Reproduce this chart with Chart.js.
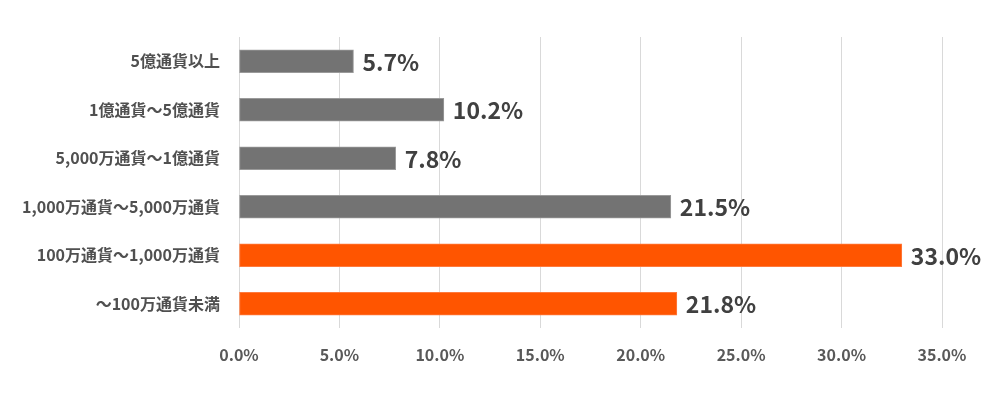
<!DOCTYPE html>
<html>
<head>
<meta charset="utf-8">
<script src="https://cdn.jsdelivr.net/npm/chart.js@4"></script>
<style>
  html, body { margin: 0; padding: 0; background: #fff; }
  #wrap { width: 1000px; height: 400px; }
</style>
</head>
<body>
<div id="wrap"><canvas id="chart" width="1000" height="400"></canvas></div>
<script>
// 分類・数値
const categories = ["5億通貨以上", "1億通貨～5億通貨", "5,000万通貨～1億通貨", "1,000万通貨～5,000万通貨", "100万通貨～1,000万通貨", "～100万通貨未満"];
const shares = [5.7, 10.2, 7.8, 21.5, 33.0, 21.8];
const highlighted = [false, false, false, false, true, true];
const xTicks = [0, 5, 10, 15, 20, 25, 30, 35];

const FONT = "'Noto Sans CJK JP', 'Noto Sans', sans-serif";
const GRAY = "#737373";
const ORANGE = "#ff5500";

// バー右側の数値ラベル
const valueLabels = {
    id: "valueLabels",
    afterDatasetsDraw(chart) {
        const ctx = chart.ctx;
        const meta = chart.getDatasetMeta(0);
        ctx.save();
        ctx.font = "bold 23px " + FONT;
        ctx.fillStyle = "#404040";
        ctx.textAlign = "left";
        ctx.textBaseline = "middle";
        meta.data.forEach((bar, i) => {
            ctx.fillText(shares[i].toFixed(1) + "%", bar.x + 9, bar.y + 1);
        });
        ctx.restore();
    }
};

new Chart(document.getElementById("chart").getContext("2d"), {
    type: "bar",
    data: {
        labels: categories,
        datasets: [{
            data: shares,
            backgroundColor: highlighted.map(h => h ? ORANGE : GRAY),
            borderColor: highlighted.map(h => h ? "#ff7a3d" : "#9a9a9a"),
            borderWidth: 1,
            borderSkipped: false,
            barThickness: 23
        }]
    },
    options: {
        indexAxis: "y",
        responsive: false,
        animation: false,
        layout: { padding: { left: 0, right: 58, top: 37, bottom: 0 } },
        plugins: {
            legend: { display: false },
            tooltip: { enabled: false }
        },
        scales: {
            x: {
                min: 0,
                max: 35,
                afterBuildTicks(scale) {
                    scale.ticks = xTicks.map(v => ({ value: v }));
                },
                afterFit(scale) { scale.height = 72; },
                grid: { color: "#d9d9d9", drawTicks: false },
                border: { display: false },
                ticks: {
                    padding: 17,
                    color: "#595959",
                    font: { family: FONT, size: 16, weight: "bold" },
                    callback: v => v.toFixed(1) + "%"
                }
            },
            y: {
                afterFit(scale) { scale.width = 239; },
                grid: { display: false, drawTicks: false },
                border: { display: false },
                ticks: {
                    padding: 19,
                    color: "#505050",
                    font: { family: FONT, size: 16, weight: "bold" }
                }
            }
        }
    },
    plugins: [valueLabels]
});
</script>
</body>
</html>
